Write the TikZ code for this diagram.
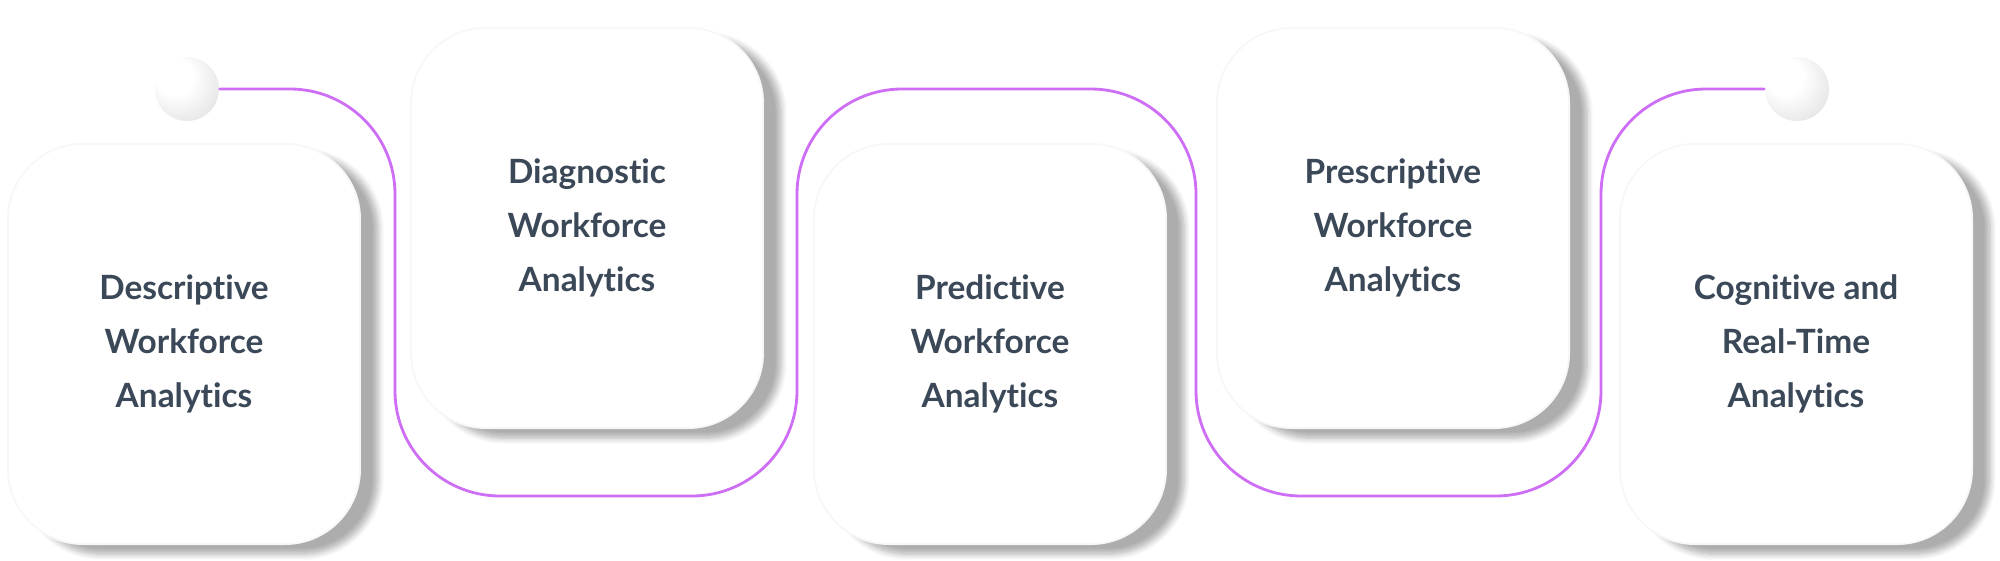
\documentclass[tikz,border=0pt]{standalone}
\usepackage{fontspec}
\setmainfont{Lato}[Ligatures=NoCommon]
\usepackage{xcolor}
\usepackage{tikz}
\usetikzlibrary{shapes,shadows.blur}
\definecolor{ink}{HTML}{3B4858}
\definecolor{orchid}{RGB}{205,110,245}
\pgfdeclareradialshading{pearl}{\pgfpoint{-12bp}{12bp}}{color(0bp)=(white); color(14bp)=(white); color(42bp)=(black!14); color(62bp)=(black!26)}
\tikzset{
	card/.style={rectangle, rounded corners=0.75cm, minimum width=3.52cm, minimum height=4cm,
		fill=white, draw=black!3, line width=0.5pt, align=center, text=ink,
		font={\fontsize{9.5}{15.4}\selectfont\bfseries},
		blur shadow={shadow xshift=0.18cm, shadow yshift=-0.1cm, shadow blur radius=0.06cm, shadow opacity=32, shadow blur steps=8}},
	pearl/.style={circle, minimum size=0.64cm, inner sep=0pt, shading=pearl},
	wire/.style={draw=orchid, line width=0.8pt, rounded corners=1.05cm}
}
\begin{document}
\begin{tikzpicture}[line cap=round,line join=round,x=0.01cm,y=0.01cm]
	\useasboundingbox (0,0) rectangle (2000,560);
	\node[pearl] (start) at (187,471) {};
	\node[pearl] (stop) at (1797,471) {};
	\draw[wire] (start.east) -- (395,471) -- (395,64) -- (797,64) -- (797,471) -- (1196,471) -- (1196,64) -- (1601,64) -- (1601,471) -- (stop.west);
	\node[card] (desc) at (184,216) {Descriptive\\Workforce\\Analytics};
	\node[card] (diag) at (587,332) {Diagnostic\\Workforce\\Analytics};
	\node[card] (pred) at (990,216) {Predictive\\Workforce\\Analytics};
	\node[card] (pres) at (1393,332) {Prescriptive\\Workforce\\Analytics};
	\node[card] (cogn) at (1796,216) {Cognitive and\\Real-Time\\Analytics};
\end{tikzpicture}
\end{document}
